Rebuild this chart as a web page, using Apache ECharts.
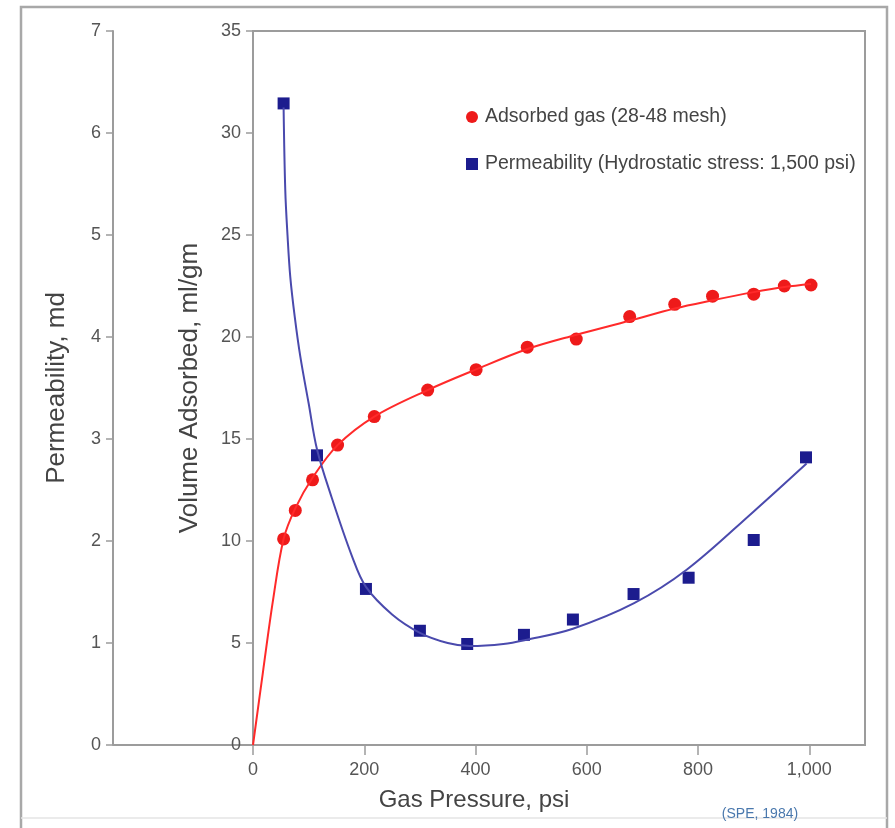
<!DOCTYPE html>
<html>
<head>
<meta charset="utf-8">
<title>Adsorbed gas and permeability vs gas pressure</title>
<script src="https://cdn.jsdelivr.net/npm/echarts@6/dist/echarts.min.js"></script>
<style>
  html, body { margin: 0; padding: 0; background: #fff; }
  #chart { width: 895px; height: 828px; }
</style>
</head>
<body>
<div id="chart"></div>
<script>
// measured points (gas pressure psi, volume ml/gm)
var gasPressure = [55, 76, 107, 152, 218, 314, 401, 493, 581, 677, 758, 826, 900, 955, 1003];
var gasVolume = [10.1, 11.5, 13.0, 14.7, 16.1, 17.4, 18.4, 19.5, 19.9, 21.0, 21.6, 22.0, 22.1, 22.5, 22.55];

// measured points (gas pressure psi, permeability md)
var permPressure = [55, 115, 203, 300, 385, 487, 575, 684, 783, 900, 994];
var permValue = [6.29, 2.84, 1.53, 1.12, 0.99, 1.08, 1.23, 1.48, 1.64, 2.01, 2.82];

// fitted curves
var gasFitX = [0, 18, 36, 55, 76, 107, 152, 218, 314, 400, 492, 580, 677, 758, 826, 900, 955, 1003];
var gasFitY = [0, 3.6, 7.1, 10.1, 11.6, 13.1, 14.7, 16.1, 17.4, 18.4, 19.4, 20.1, 20.8, 21.4, 21.8, 22.2, 22.45, 22.6];
var permFitX = [55, 58, 62, 67, 75, 85, 100, 115, 140, 178, 203, 250, 300, 350, 390, 450, 490, 575, 685, 780, 900, 995];
var permFitY = [6.25, 5.44, 5.0, 4.59, 4.2, 3.81, 3.35, 2.9, 2.45, 1.85, 1.55, 1.28, 1.1, 1.0, 0.97, 0.99, 1.03, 1.14, 1.39, 1.72, 2.29, 2.76];

var xTicks = [0, 200, 400, 600, 800, 1000];
var volTicks = [0, 5, 10, 15, 20, 25, 30, 35];
var permTicks = [0, 1, 2, 3, 4, 5, 6, 7];

var gasName = 'Adsorbed gas (28-48 mesh)';
var permName = 'Permeability (Hydrostatic stress: 1,500 psi)';

function pairs(xs, ys) {
  var out = [];
  for (var i = 0; i < xs.length; i++) {
    out.push([xs[i], ys[i]]);
  }
  return out;
}

var axisGray = '#9c9c9c';
var labelGray = '#555';
var font = 'Liberation Sans, Arial, sans-serif';

function yAxisDef(ticks, offset) {
  return {
    type: 'value',
    position: 'left',
    offset: offset,
    min: ticks[0],
    max: ticks[ticks.length - 1],
    interval: ticks[1] - ticks[0],
    splitLine: { show: false },
    axisLine: { show: true, lineStyle: { color: axisGray, width: 2 } },
    axisTick: { show: true, inside: false, length: 7, lineStyle: { color: axisGray, width: 1.5 } },
    axisLabel: { color: labelGray, fontSize: 18, fontFamily: font, margin: 12 }
  };
}

var chart = echarts.init(document.getElementById('chart'));

var option = {
  animation: false,
  backgroundColor: '#fff',
  grid: {
    left: 253, right: 30, top: 31, bottom: 83,
    show: true, borderColor: axisGray, borderWidth: 2
  },
  legend: {
    orient: 'vertical',
    left: 461, top: 102,
    itemWidth: 12, itemHeight: 12, itemGap: 27,
    textStyle: { color: '#444', fontSize: 19.5, fontFamily: font, padding: [0, 0, 0, 2] },
    data: [
      { name: gasName, icon: 'circle' },
      { name: permName, icon: 'rect' }
    ]
  },
  xAxis: {
    type: 'value',
    min: 0,
    max: 1100,
    splitLine: { show: false },
    axisLine: { show: true, lineStyle: { color: axisGray, width: 2 } },
    axisTick: { show: true, inside: false, length: 10, customValues: xTicks, lineStyle: { color: axisGray, width: 1.5 } },
    axisLabel: {
      color: labelGray, fontSize: 18, fontFamily: font, margin: 16,
      customValues: xTicks,
      formatter: function(v) { return v >= 1000 ? echarts.format.addCommas(v) : String(v); }
    }
  },
  yAxis: [yAxisDef(volTicks, 0), yAxisDef(permTicks, 140)],
  series: [
    {
      name: 'gas fit', type: 'line', yAxisIndex: 0, smooth: 0.35, showSymbol: false, silent: true,
      lineStyle: { color: '#ff2a2a', width: 2 },
      data: pairs(gasFitX, gasFitY)
    },
    {
      name: 'perm fit', type: 'line', yAxisIndex: 1, smooth: 0.35, showSymbol: false, silent: true,
      lineStyle: { color: '#4a4aad', width: 2 },
      data: pairs(permFitX, permFitY)
    },
    {
      name: gasName, type: 'scatter', yAxisIndex: 0, symbol: 'circle', symbolSize: 13,
      itemStyle: { color: '#ee1a1a', opacity: 1 },
      data: pairs(gasPressure, gasVolume)
    },
    {
      name: permName, type: 'scatter', yAxisIndex: 1, symbol: 'rect', symbolSize: 12,
      itemStyle: { color: '#1c1c8e', opacity: 1 },
      data: pairs(permPressure, permValue)
    }
  ],
  graphic: [
    // outer frame of the figure
    { type: 'polyline', silent: true, shape: { points: [[21, 828], [21, 7], [887, 7], [887, 828]] },
      style: { stroke: '#a8a8a8', lineWidth: 2.5, fill: null } },
    { type: 'line', silent: true, shape: { x1: 21, y1: 818, x2: 887, y2: 818 },
      style: { stroke: '#e4e4e4', lineWidth: 1.5 } },
    // bottom line under the permeability axis
    { type: 'line', silent: true, shape: { x1: 113, y1: 745, x2: 253, y2: 745 },
      style: { stroke: axisGray, lineWidth: 2 } },
    { type: 'text', x: 57, y: 388, rotation: Math.PI / 2,
      style: { text: 'Permeability, md', fill: '#444', font: '26px ' + font, align: 'center', verticalAlign: 'middle' } },
    { type: 'text', x: 190, y: 388, rotation: Math.PI / 2,
      style: { text: 'Volume Adsorbed, ml/gm', fill: '#444', font: '26px ' + font, align: 'center', verticalAlign: 'middle' } },
    { type: 'text', x: 474, y: 800,
      style: { text: 'Gas Pressure, psi', fill: '#444', font: '24px ' + font, align: 'center', verticalAlign: 'middle' } },
    { type: 'text', x: 760, y: 814,
      style: { text: '(SPE, 1984)', fill: '#4a78ad', font: '14px ' + font, align: 'center', verticalAlign: 'middle' } }
  ]
};

chart.setOption(option);
</script>
</body>
</html>
